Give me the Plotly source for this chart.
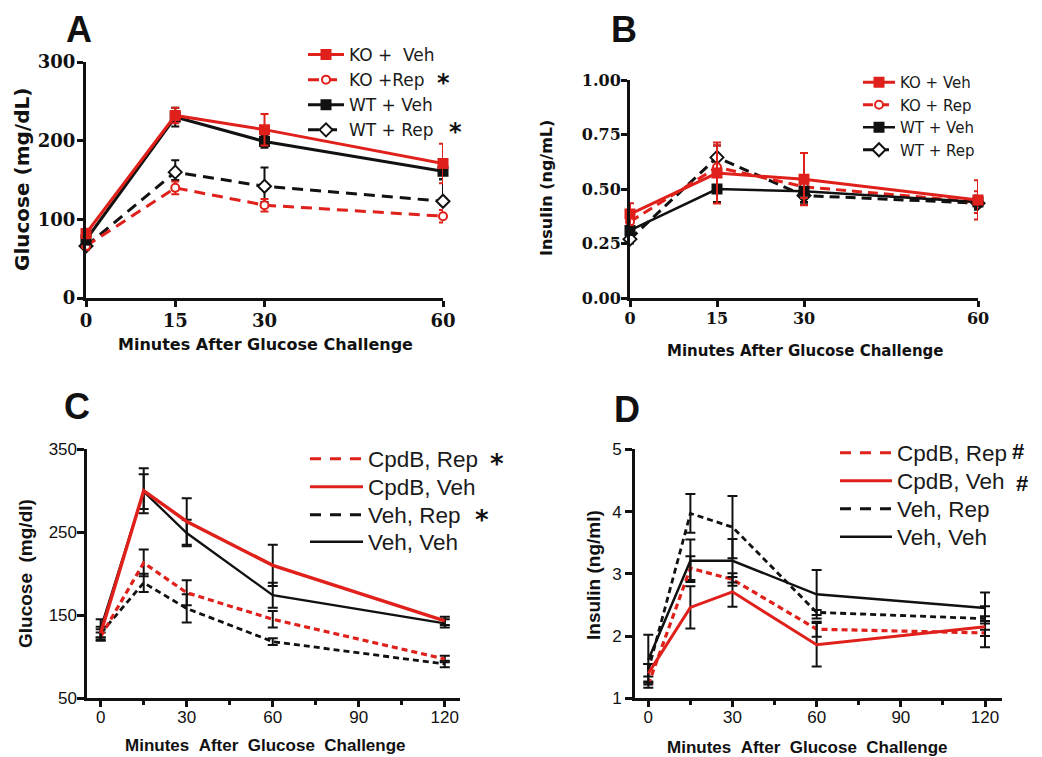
import plotly.graph_objects as go

# the page places the figure 8 px in from the top-left corner of the window
OFF = 8
W, H = 1042 - OFF, 757 - OFF


def px(x):
    return (x - OFF) / W


def py(y):
    return 1 - (y - OFF) / H


RED = "#e0201b"
BLK = "#111111"
TXT = "#1a1a1a"

# ---------------- Panel A : glucose ----------------
t_ab = [0, 15, 30, 60]
a_names = ["KO +\u00a0\u00a0Veh", "KO +Rep", "WT + Veh", "WT + Rep"]
a_ko_veh = [82, 232, 214, 171]
a_ko_veh_err = [6, 10, 20, 25]
a_ko_rep = [66, 140, 118, 104]
a_ko_rep_err = [5, 8, 8, 8]
a_wt_veh = [74, 230, 199, 161]
a_wt_veh_err = [6, 12, 8, 10]
a_wt_rep = [66, 160, 142, 123]
a_wt_rep_err_up = [4, 15, 24, 28]
a_wt_rep_err_dn = [4, 10, 20, 4]

# ---------------- Panel B : insulin ----------------
b_names = ["KO + Veh", "KO + Rep", "WT + Veh", "WT + Rep"]
b_ko_veh = [0.385, 0.573, 0.545, 0.45]
b_ko_veh_err = [0.05, 0.14, 0.12, 0.09]
b_ko_rep = [0.35, 0.60, 0.51, 0.44]
b_ko_rep_err = [0.03, 0.10, 0.05, 0.05]
b_wt_veh = [0.31, 0.50, 0.49, 0.44]
b_wt_veh_err = [0.02, 0.06, 0.05, 0.03]
b_wt_rep = [0.27, 0.645, 0.47, 0.435]
b_wt_rep_err = [0.02, 0.055, 0.04, 0.03]

# ---------------- Panel C : glucose ----------------
t_cd = [0, 15, 30, 60, 120]
cd_names = ["CpdB, Rep", "CpdB, Veh", "Veh, Rep", "Veh, Veh"]
c_cpdb_rep = [124, 213, 177, 145, 97]
c_cpdb_rep_err = [5, 16, 15, 10, 4]
c_cpdb_veh = [128, 300, 263, 210, 143]
c_cpdb_veh_err = [8, 27, 28, 25, 5]
c_veh_rep = [128, 189, 158, 118, 91]
c_veh_rep_err = [5, 11, 17, 4, 4]
c_veh_veh = [134, 299, 249, 174, 140]
c_veh_veh_err = [11, 21, 16, 15, 5]

# ---------------- Panel D : insulin ----------------
d_cpdb_rep = [1.22, 3.09, 2.91, 2.11, 2.05]
d_cpdb_rep_err = [0.05, 0.19, 0.10, 0.12, 0.05]
d_cpdb_veh = [1.40, 2.46, 2.71, 1.86, 2.15]
d_cpdb_veh_err = [0.15, 0.34, 0.24, 0.35, 0.33]
d_veh_rep = [1.45, 3.97, 3.75, 2.38, 2.28]
d_veh_rep_err = [0.10, 0.31, 0.50, 0.04, 0.04]
d_veh_veh = [1.62, 3.21, 3.21, 2.67, 2.45]
d_veh_veh_err = [0.40, 0.34, 0.35, 0.39, 0.25]

fig = go.Figure()


def ab_trace(x, y, eu, ed, name, color, dash, symbol, fill, xa, ya, leg, rank, lw=3, ms=9):
    fig.add_trace(go.Scatter(
        x=x, y=y, name=name, mode="lines+markers",
        line=dict(color=color, width=lw, dash=dash),
        marker=dict(symbol=symbol, size=ms, color=fill,
                    line=dict(color=color, width=2)),
        error_y=dict(type="data", array=eu, arrayminus=ed, symmetric=False,
                     color=color, thickness=2, width=4),
        xaxis=xa, yaxis=ya, legend=leg, legendrank=rank,
        legendgroup=leg + str(rank), cliponaxis=False,
    ))


# Panel A (drawing order: dashed first, red solid on top)
ab_trace(t_ab, a_wt_rep, a_wt_rep_err_up, a_wt_rep_err_dn, a_names[3], BLK, "11px,7px",
         "diamond", "white", "x", "y", "legend", 4, ms=10)
ab_trace(t_ab, a_ko_rep, a_ko_rep_err, a_ko_rep_err, a_names[1], RED, "11px,7px",
         "circle", "white", "x", "y", "legend", 2, ms=8)
ab_trace(t_ab, a_wt_veh, a_wt_veh_err, a_wt_veh_err, a_names[2], BLK, "solid",
         "square", BLK, "x", "y", "legend", 3)
ab_trace(t_ab, a_ko_veh, a_ko_veh_err, a_ko_veh_err, a_names[0], RED, "solid",
         "square", RED, "x", "y", "legend", 1)

# Panel B
ab_trace(t_ab, b_wt_rep, b_wt_rep_err, b_wt_rep_err, b_names[3], BLK, "10px,6px",
         "diamond", "white", "x2", "y2", "legend2", 4, ms=10)
ab_trace(t_ab, b_ko_rep, b_ko_rep_err, b_ko_rep_err, b_names[1], RED, "10px,6px",
         "circle", "white", "x2", "y2", "legend2", 2, ms=8)
ab_trace(t_ab, b_wt_veh, b_wt_veh_err, b_wt_veh_err, b_names[2], BLK, "solid",
         "square", BLK, "x2", "y2", "legend2", 3, lw=2.5)
ab_trace(t_ab, b_ko_veh, b_ko_veh_err, b_ko_veh_err, b_names[0], RED, "solid",
         "square", RED, "x2", "y2", "legend2", 1)


def cd_trace(x, y, e, color, dash, lw, xa, ya):
    fig.add_trace(go.Scatter(
        x=x, y=y, mode="lines", showlegend=False,
        line=dict(color=color, width=lw, dash=dash),
        error_y=dict(type="data", array=e, color=BLK, thickness=2, width=5),
        xaxis=xa, yaxis=ya, cliponaxis=False,
    ))


def cd_legend(name, color, dash, leg, lw=3):
    fig.add_trace(go.Scatter(
        x=[None], y=[None], mode="lines", name=name,
        line=dict(color=color, width=lw, dash=dash),
        xaxis="x3", yaxis="y3", legend=leg,
    ))


SHORT = "6px,4px"
LONG = "11px,9px"

# Panel C
cd_trace(t_cd, c_veh_rep, c_veh_rep_err, BLK, SHORT, 2.8, "x3", "y3")
cd_trace(t_cd, c_cpdb_rep, c_cpdb_rep_err, RED, SHORT, 3.2, "x3", "y3")
cd_trace(t_cd, c_veh_veh, c_veh_veh_err, BLK, "solid", 2.3, "x3", "y3")
cd_trace(t_cd, c_cpdb_veh, c_cpdb_veh_err, RED, "solid", 3.4, "x3", "y3")
cd_legend(cd_names[0], RED, LONG, "legend3")
cd_legend(cd_names[1], RED, "solid", "legend4")
cd_legend(cd_names[2], BLK, LONG, "legend5")
cd_legend(cd_names[3], BLK, "solid", "legend6", lw=2.5)

# Panel D
cd_trace(t_cd, d_veh_rep, d_veh_rep_err, BLK, SHORT, 2.8, "x4", "y4")
cd_trace(t_cd, d_cpdb_rep, d_cpdb_rep_err, RED, SHORT, 3.2, "x4", "y4")
cd_trace(t_cd, d_veh_veh, d_veh_veh_err, BLK, "solid", 2.5, "x4", "y4")
cd_trace(t_cd, d_cpdb_veh, d_cpdb_veh_err, RED, "solid", 3.0, "x4", "y4")
cd_legend(cd_names[0], RED, LONG, "legend7")
cd_legend(cd_names[1], RED, "solid", "legend8")
cd_legend(cd_names[2], BLK, LONG, "legend9")
cd_legend(cd_names[3], BLK, "solid", "legend10", lw=2.5)

serif = dict(family="DejaVu Serif", size=18, color=BLK, weight="bold")
serifB = dict(family="DejaVu Serif", size=16, color=BLK, weight="bold")
sans = dict(family="Liberation Sans", size=17, color=BLK)


def axis(domain, anchor, rng, tickvals, font, ticklen=6, lw=3, standoff=2, **kw):
    d = dict(domain=domain, anchor=anchor, range=rng, tickvals=tickvals,
             ticks="outside", ticklen=ticklen, tickwidth=lw, tickcolor=BLK,
             showline=True, linewidth=lw, linecolor=BLK, showgrid=False,
             zeroline=False, tickfont=font, ticklabelstandoff=standoff,
             fixedrange=True, automargin=False)
    d.update(kw)
    return d


minor = dict(tickvals=[15, 45, 75, 105], ticks="outside", ticklen=4,
             tickwidth=2.5, tickcolor=BLK)


def legend(x, y, size, family, itemwidth):
    return dict(x=px(x), y=py(y), xanchor="left", yanchor="top",
                bgcolor="rgba(0,0,0,0)", tracegroupgap=0, borderwidth=0,
                itemwidth=itemwidth,
                font=dict(family=family, size=size, color=TXT))


legends = dict(
    legend=legend(303, 37, 17, "DejaVu Sans", 36),
    legend2=legend(858, 66, 15, "DejaVu Sans", 32),
)
# one legend per entry for panels C and D so the row spacing matches
c_rows = [437.5, 465.5, 493.5, 520.5]
d_rows = [431.5, 459.5, 487.5, 515.5]
for i, yy in enumerate(c_rows):
    legends["legend%d" % (3 + i)] = legend(305, yy, 22.5, "Liberation Sans", 53)
for i, yy in enumerate(d_rows):
    legends["legend%d" % (7 + i)] = legend(835, yy, 22.5, "Liberation Sans", 52)

fig.update_layout(
    template="none",
    width=W, height=H, autosize=False,
    margin=dict(l=0, r=0, t=0, b=0, autoexpand=False),
    paper_bgcolor="white", plot_bgcolor="white",
    xaxis=axis([px(86), px(443)], "y", [0, 60], t_ab, serif, standoff=-2),
    yaxis=axis([py(298), py(62)], "x", [0, 300], [0, 100, 200, 300], serif, standoff=-2),
    xaxis2=axis([px(630), px(978)], "y2", [0, 60], t_ab, serifB, standoff=-2),
    yaxis2=axis([py(298), py(80)], "x2", [0, 1], [0, 0.25, 0.5, 0.75, 1.0], serifB,
                standoff=-3, tickformat=".2f"),
    xaxis3=axis([px(87.3), px(460)], "y3", [-4.67, 125.3], [0, 30, 60, 90, 120], sans,
                ticklen=6, lw=2.8, standoff=-4, minor=minor),
    yaxis3=axis([py(698), py(449.3)], "x3", [50, 350], [50, 150, 250, 350], sans,
                ticklen=7, lw=2.8, standoff=-3),
    xaxis4=axis([px(635), px(1001.7)], "y4", [-4.74, 125.95], [0, 30, 60, 90, 120], sans,
                ticklen=6, lw=2.8, standoff=-5, minor=minor),
    yaxis4=axis([py(698.3), py(449.3)], "x4", [1, 5], [1, 2, 3, 4, 5], sans,
                ticklen=7, lw=2.8, standoff=0),
    **legends,
)

ann = []


def note(text, x, y, font, angle=0):
    ann.append(dict(text=text, x=px(x), y=py(y), xref="paper", yref="paper",
                    showarrow=False, xanchor="center", yanchor="middle",
                    textangle=angle, font=font, borderpad=0))


letter = dict(family="Liberation Sans", size=36, color=BLK, weight="bold")
note("A", 79, 29, letter)
note("B", 624, 29, letter)
note("C", 77, 407, letter)
note("D", 627, 409, letter)

tA = dict(family="DejaVu Sans", size=16, color=BLK, weight="bold")
note("Glucose (mg/dL)", 22, 180, dict(family="DejaVu Sans", size=20, color=BLK, weight="bold"), -90)
note("Minutes After Glucose Challenge", 265, 344, tA)
note("Insulin (ng/mL)", 546, 188, dict(family="DejaVu Sans", size=16, color=BLK, weight="bold"), -90)
note("Minutes After Glucose Challenge", 805, 351, dict(family="DejaVu Sans", size=15, color=BLK, weight="bold"))

tC = dict(family="Liberation Sans", size=17, color=BLK, weight="bold")
note("Glucose\u00a0\u00a0(mg/dl)", 25, 574, dict(family="Liberation Sans", size=19, color=BLK, weight="bold"), -90)
note("Minutes\u00a0\u00a0After\u00a0\u00a0Glucose\u00a0\u00a0Challenge", 265, 745, tC)
note("Insulin (ng/ml)", 593, 575, dict(family="Liberation Sans", size=19, color=BLK, weight="bold"), -90)
note("Minutes\u00a0\u00a0After\u00a0\u00a0Glucose\u00a0\u00a0Challenge", 807, 747, tC)

star = dict(family="DejaVu Sans", size=24, color=BLK, weight="bold")
note("*", 443, 83, star)
note("*", 455, 132, star)
note("*", 497, 464, dict(family="DejaVu Sans", size=26, color=BLK, weight="bold"))
note("*", 482, 520, dict(family="DejaVu Sans", size=26, color=BLK, weight="bold"))
hashf = dict(family="Liberation Sans", size=22, color=BLK, weight="bold")
note("#", 1018, 451, hashf)
note("#", 1022, 484, hashf)

fig.update_layout(annotations=ann)
fig.write_html("out.html")
